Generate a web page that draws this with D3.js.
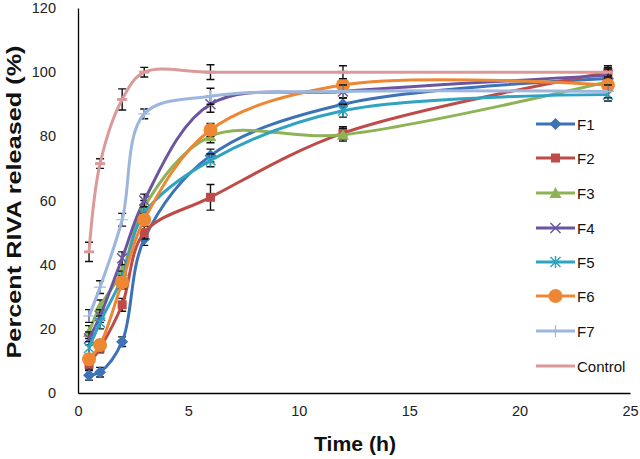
<!DOCTYPE html>
<html><head><meta charset="utf-8">
<script src="https://cdn.jsdelivr.net/npm/d3@7"></script>
<style>body{margin:0;background:#fff}svg{display:block;font-family:"Liberation Sans",Arial,sans-serif}</style>
</head><body><svg id="c" width="640" height="459"></svg>
<script>
const times = [0.5, 1, 2, 3, 6, 12, 24];
const seriesNames = ["F1","F2","F3","F4","F5","F6","F7","Control"];
const F1 = [5.5, 6.5, 16, 48, 74, 90, 98];
const F2 = [9, 14, 27.5, 50, 61, 81, 100];
const F3 = [19, 27, 38, 58, 80, 80.5, 97];
const F4 = [17, 24, 42, 60, 90, 94, 99];
const F5 = [14, 22, 36, 56, 72.5, 88, 93];
const F6 = [10.5, 15, 34.5, 54, 82, 96, 96];
const F7 = [24, 33, 54, 87, 92.5, 94, 94];
const Control = [44, 71.5, 91.5, 100, 100, 100, 100];
const errF1 = [1.5, 1.5, 1.5, 2, 2, 2, 2];
const errF2 = [1.5, 1.5, 2, 2, 4, 2, 2];
const errF3 = [2, 2, 2, 2, 2, 2, 2];
const errF4 = [2, 2, 2, 2, 2.5, 2, 2];
const errF5 = [2, 2, 2, 2, 2, 2, 2];
const errF6 = [1.5, 1.5, 2, 2, 2, 2, 2];
const errF7 = [2, 2, 2, 1.5, 2.5, 2, 2];
const errControl = [3, 1.5, 3.3, 1.5, 2.3, 2, 1.5];
const xTicks = [0, 5, 10, 15, 20, 25];
const yTicks = [0, 20, 40, 60, 80, 100, 120];

const values = [F1,F2,F3,F4,F5,F6,F7,Control];
const errs = [errF1,errF2,errF3,errF4,errF5,errF6,errF7,errControl];
const colors = ["#3D72B6","#BE4B48","#8DB356","#6C55A0","#2FA3C0","#EE8733","#9CB6DE","#DB9A9A"];
const markers = ["diamond","square","triangle","x","asterisk","circle","plus","none"];

const svg = d3.select("#c");
const x = d3.scaleLinear().domain([0,25]).range([78,630]);
const y = d3.scaleLinear().domain([0,120]).range([393,8]);

const xa = svg.append("g").attr("transform","translate(0,393)")
  .call(d3.axisBottom(x).tickValues(xTicks).tickSize(0).tickPadding(13));
const ya = svg.append("g").attr("transform","translate(78,0)")
  .call(d3.axisLeft(y).tickValues(yTicks).tickSize(0).tickPadding(22));
[xa,ya].forEach(a=>{
  a.select(".domain").attr("stroke","#000").attr("stroke-width",1.3);
  a.selectAll("text").attr("font-size",14.5).attr("fill","#222").attr("font-family","Liberation Sans, Arial, sans-serif");
});

svg.append("text").attr("x",355).attr("y",451).attr("text-anchor","middle")
  .attr("font-size",20).attr("font-weight","bold").attr("fill","#111")
  .attr("textLength",82).attr("lengthAdjust","spacingAndGlyphs").text("Time (h)");
svg.append("text").attr("transform","translate(21,202) rotate(-90)").attr("text-anchor","middle")
  .attr("font-size",20).attr("font-weight","bold").attr("fill","#111")
  .attr("textLength",313).attr("lengthAdjust","spacingAndGlyphs").text("Percent RIVA released (%)");

function drawMarker(g, type, cx, cy, color){
  const s = 5;
  if(type==="diamond") g.append("path").attr("d",`M${cx},${cy-6}L${cx+6},${cy}L${cx},${cy+6}L${cx-6},${cy}Z`).attr("fill",color);
  else if(type==="square") g.append("rect").attr("x",cx-4.5).attr("y",cy-4.5).attr("width",9).attr("height",9).attr("fill",color);
  else if(type==="triangle") g.append("path").attr("d",`M${cx},${cy-6}L${cx+6},${cy+5}L${cx-6},${cy+5}Z`).attr("fill",color);
  else if(type==="circle") g.append("circle").attr("cx",cx).attr("cy",cy).attr("r",7).attr("fill",color);
  else if(type==="x") g.append("path").attr("d",`M${cx-s},${cy-s}L${cx+s},${cy+s}M${cx-s},${cy+s}L${cx+s},${cy-s}`).attr("stroke",color).attr("stroke-width",1.5);
  else if(type==="asterisk") g.append("path").attr("d",`M${cx-s},${cy-s}L${cx+s},${cy+s}M${cx-s},${cy+s}L${cx+s},${cy-s}M${cx},${cy-6}L${cx},${cy+6}`).attr("stroke",color).attr("stroke-width",1.5);
  else if(type==="plus") g.append("path").attr("d",`M${cx-6},${cy}L${cx+6},${cy}M${cx},${cy-6}L${cx},${cy+6}`).attr("stroke",color).attr("stroke-width",1.2);
}

const line = d3.line().x(d=>x(d[0])).y(d=>y(d[1])).curve(d3.curveCatmullRom.alpha(0.5));

values.forEach((vals,i)=>{
  const g = svg.append("g");
  const pts = times.map((t,j)=>[t,vals[j]]);
  pts.forEach((p,j)=>{
    const e = errs[i][j];
    const cx = x(p[0]), y1 = y(p[1]+e), y2 = y(p[1]-e);
    g.append("path").attr("d",`M${cx},${y1}L${cx},${y2}M${cx-4},${y1}L${cx+4},${y1}M${cx-4},${y2}L${cx+4},${y2}`)
      .attr("stroke","#111").attr("stroke-width",1.4).attr("fill","none");
  });
  g.append("path").datum(pts).attr("d",line).attr("fill","none").attr("stroke",colors[i]).attr("stroke-width",3);
  pts.forEach(p=>drawMarker(g, markers[i], x(p[0]), y(p[1]), colors[i]));
  if(markers[i]==="none"){
    pts.forEach(p=>g.append("path").attr("d",`M${x(p[0])-5},${y(p[1])}L${x(p[0])+5},${y(p[1])}`).attr("stroke",colors[i]).attr("stroke-width",3));
  }
});

const legY = [124,158,193,228,262,296,331,366];
seriesNames.forEach((n,i)=>{
  const g = svg.append("g");
  g.append("line").attr("x1",536).attr("x2",575).attr("y1",legY[i]).attr("y2",legY[i]).attr("stroke",colors[i]).attr("stroke-width",3);
  drawMarker(g, markers[i], 555.5, legY[i], colors[i]);
  g.append("text").attr("x",577).attr("y",legY[i]+5.5).attr("font-size",15).attr("fill","#111").text(n);
});
</script></body></html>
